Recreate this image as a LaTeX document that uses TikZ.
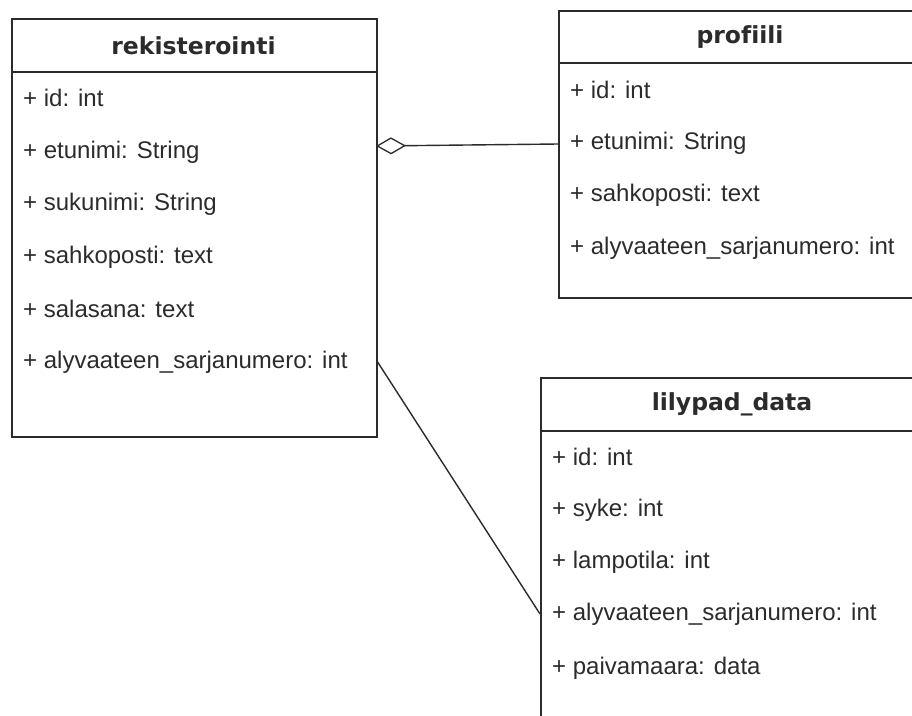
\documentclass[tikz,border=0pt]{standalone}
\usepackage{fontspec}
\setmainfont{Liberation Sans}
\newfontfamily\titlefont[Ligatures=NoCommon]{DejaVu Sans}
\usetikzlibrary{arrows.meta}
\definecolor{ink}{HTML}{2B2B2B}
\begin{document}
\begin{tikzpicture}[x=1pt,y=-1pt,
  box/.style={draw=ink, line width=1.6pt, rectangle, inner sep=0pt, anchor=north west},
  ttl/.style={font=\titlefont\bfseries\fontsize{23.5}{28}\selectfont, text=ink, inner sep=0pt},
  fld/.style={font=\fontsize{24}{28}\selectfont, text=ink, anchor=west, inner sep=0pt},
  conn/.style={draw=ink, line width=1.4pt}]
\useasboundingbox (0,0) rectangle (912,715);
\clip (0,0) rectangle (912,715);
% rekisterointi
\node[box, minimum width=365pt, minimum height=53pt] (rekh) at (11,18) {};
\node[box, minimum width=365pt, minimum height=365pt] (rekb) at (11,71) {};
\node[ttl] (rekt) at (193.5,46) {rekisterointi};
\node[fld] (rekf1) at (23,98) {+ id: int};
\node[fld] (rekf2) at (23,152) {+ etunimi: String};
\node[fld] (rekf3) at (23,204) {+ sukunimi: String};
\node[fld] (rekf4) at (23,257) {+ sahkoposti: text};
\node[fld] (rekf5) at (23,309) {+ salasana: text};
\node[fld] (rekf6) at (23,362) {+ alyvaateen\_sarjanumero: int};
% profiili
\node[box, minimum width=364pt, minimum height=52pt] (proh) at (558,10) {};
\node[box, minimum width=364pt, minimum height=235pt] (prob) at (558,62) {};
\node[ttl] (prot) at (740,37) {profiili};
\node[fld] (prof1) at (570,90) {+ id: int};
\node[fld] (prof2) at (570,143) {+ etunimi: String};
\node[fld] (prof3) at (570,195) {+ sahkoposti: text};
\node[fld] (prof4) at (570,248) {+ alyvaateen\_sarjanumero: int};
% lilypad_data
\node[box, minimum width=384pt, minimum height=53pt] (lilh) at (540,377) {};
\node[box, minimum width=384pt, minimum height=330pt] (lilb) at (540,430) {};
\node[ttl] (lilt) at (732,404) {lilypad\_data};
\node[fld] (lilf1) at (552,457) {+ id: int};
\node[fld] (lilf2) at (552,510) {+ syke: int};
\node[fld] (lilf3) at (552,562) {+ lampotila: int};
\node[fld] (lilf4) at (552,614) {+ alyvaateen\_sarjanumero: int};
\node[fld] (lilf5) at (552,668) {+ paivamaara: data};
% connectors
\coordinate (aggR) at (376,146);
\coordinate (aggP) at (558,144);
\draw[conn, {Diamond[open, length=30pt, width=17pt, line width=1.3pt]}-] (aggR) -- (aggP);
\draw[conn] (rekb.east |- rekf6.west) -- (lilb.west |- lilf4.west);
\end{tikzpicture}
\end{document}
